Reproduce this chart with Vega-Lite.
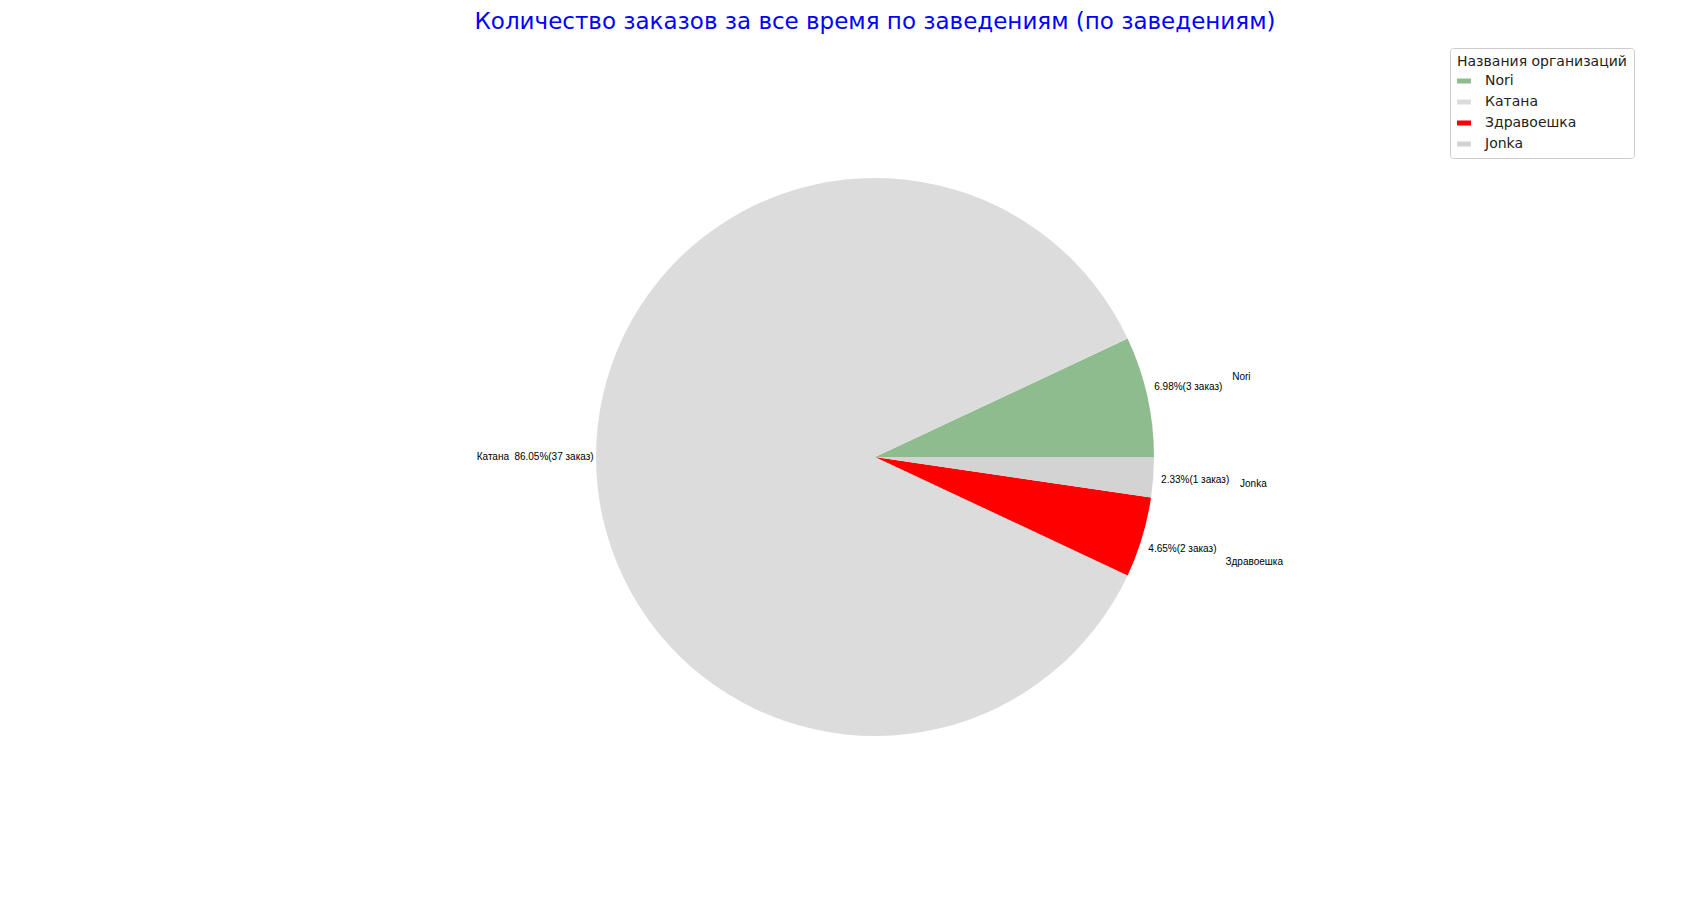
{
  "$schema": "https://vega.github.io/schema/vega-lite/v6.json",
  "width": 1750,
  "height": 834,
  "autosize": "none",
  "padding": {"top": 40, "left": 0, "right": 0, "bottom": 0},
  "background": "white",
  "title": {"text": "Количество заказов за все время по заведениям (по заведениям)", "color": "blue", "fontSize": 23, "font": "DejaVu Sans", "fontWeight": "normal", "anchor": "middle", "offset": 6},
  "data": {"values": [
    {"name": "Nori", "count": 3, "ord": 4, "pct": "6.98%(3 заказ)"},
    {"name": "Катана", "count": 37, "ord": 3, "pct": "86.05%(37 заказ)"},
    {"name": "Здравоешка", "count": 2, "ord": 2, "pct": "4.65%(2 заказ)"},
    {"name": "Jonka", "count": 1, "ord": 1, "pct": "2.33%(1 заказ)"}
  ]},
  "encoding": {
    "theta": {"field": "count", "type": "quantitative", "stack": true, "scale": {"range": [1.5708, 7.854]}},
    "order": {"field": "ord", "type": "quantitative"}
  },
  "config": {"view": {"stroke": null}},
  "layer": [
    {
      "mark": {"type": "arc", "outerRadius": 279},
      "encoding": {
        "color": {"field": "name", "type": "nominal", "sort": ["Nori", "Катана", "Здравоешка", "Jonka"],
          "scale": {"domain": ["Nori", "Катана", "Здравоешка", "Jonka"], "range": ["#8fbc8f", "#dcdcdc", "#ff0000", "#d3d3d3"]},
          "legend": {"title": "Названия организаций", "orient": "none", "legendX": 1450, "legendY": 8,
            "strokeColor": "#cccccc", "cornerRadius": 3, "padding": 7, "fillColor": "white",
            "symbolType": "M-1.4,-0.5h2.8v1h-2.8z", "symbolSize": 100, "symbolStrokeWidth": 0, "symbolOpacity": 1,
            "labelFontSize": 14, "titleFontSize": 14, "labelFont": "DejaVu Sans", "titleFont": "DejaVu Sans",
            "titleFontWeight": "normal", "rowPadding": 7, "labelOffset": 14, "titleColor": "#222", "labelColor": "#222"}
        }
      }
    },
    {
      "mark": {"type": "text", "radius": 321, "fontSize": 10, "font": "Liberation Sans", "align": "center", "baseline": "middle"},
      "encoding": {"text": {"field": "pct"}, "color": {"value": "black"}}
    },
    {
      "mark": {"type": "text", "radius": 366, "fontSize": 10, "font": "Liberation Sans", "align": "left", "baseline": "middle"},
      "encoding": {"text": {"condition": {"test": "datum.name != 'Катана'", "field": "name"}, "value": ""}, "color": {"value": "black"}}
    },
    {
      "mark": {"type": "text", "radius": 366, "fontSize": 10, "font": "Liberation Sans", "align": "right", "baseline": "middle"},
      "encoding": {"text": {"condition": {"test": "datum.name == 'Катана'", "field": "name"}, "value": ""}, "color": {"value": "black"}}
    }
  ]
}
